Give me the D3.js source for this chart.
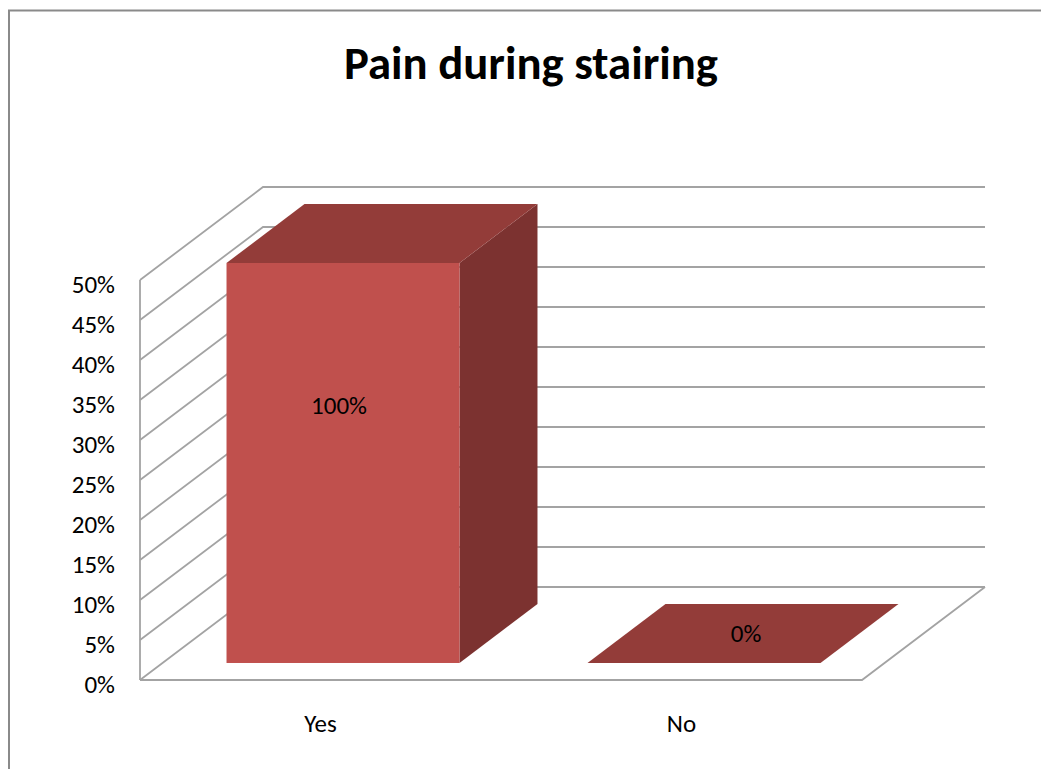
<!DOCTYPE html>
<html>
<head>
<meta charset="utf-8">
<script src="https://cdn.jsdelivr.net/npm/d3@7"></script>
<style>
  html, body { margin: 0; padding: 0; background: #fff; }
  svg { display: block; }
</style>
</head>
<body>
<svg id="chart" width="1041" height="769"></svg>
<script>
const titleText = "Pain during stairing";
const categories = ["Yes", "No"];
const values = [1.0, 0.0];
const valueLabels = ["100%", "0%"];
const tickValues = [0, 0.05, 0.10, 0.15, 0.20, 0.25, 0.30, 0.35, 0.40, 0.45, 0.50];
const tickLabels = ["0%", "5%", "10%", "15%", "20%", "25%", "30%", "35%", "40%", "45%", "50%"];

const W = 1041, H = 769;
const svg = d3.select("#chart");
const FONT = "Calibri, Carlito, Lato, 'Open Sans', sans-serif";
const LABEL_SIZE = 25;

// plot geometry (front plane)
const plot = { left: 140, right: 862, bottom: 680, top: 280 };
const depthDX = 123, depthDY = -93;     // 3D depth offset of back wall
const barDepth = [0.183, 0.817];         // bar occupies this fraction of depth
const gridColor = "#a3a3a3";

const y = d3.scaleLinear().domain([0, 0.5]).range([plot.bottom, plot.top]).clamp(true);
const x = d3.scaleBand().domain(categories).range([plot.left, plot.right])
  .paddingInner(0.3546).paddingOuter(0.1773);
const zx = d3.scaleLinear().domain([0, 1]).range([0, depthDX]);
const zy = d3.scaleLinear().domain([0, 1]).range([0, depthDY]);
const P = (px, py, z) => [px + zx(z), py + zy(z)];

// outer border
svg.append("rect").attr("x", 9).attr("y", 10.5).attr("width", 1100).attr("height", 1000)
  .attr("fill", "none").attr("stroke", "#8a8a8a").attr("stroke-width", 2);

// title
const title = svg.append("text").attr("x", 531).attr("y", 79)
  .attr("text-anchor", "middle").attr("font-family", FONT).attr("font-weight", "bold")
  .attr("font-size", 40).attr("fill", "#000").text(titleText);
const tw = title.node().getComputedTextLength();
title.attr("font-size", 40 * 374 / tw);

// walls & gridlines
const grid = svg.append("g").attr("fill", "none").attr("stroke", gridColor).attr("stroke-width", 1.8);
tickValues.forEach(t => {
  const a = P(plot.left, y(t), 0), b = P(plot.left, y(t), 1), c = P(plot.right, y(t), 1);
  grid.append("path").attr("d", d3.line()([a, b, c]));
});
// left wall front edge (value axis line)
grid.append("line").attr("x1", plot.left).attr("y1", y(0.5)).attr("x2", plot.left).attr("y2", y(0));
// floor front & right edges
grid.append("path").attr("d", d3.line()([P(plot.left, y(0), 0), P(plot.right, y(0), 0), P(plot.right, y(0), 1)]));

// bars
const bars = svg.append("g");
categories.forEach((cat, i) => {
  const v = values[i];
  const x0 = x(cat), x1 = x(cat) + x.bandwidth();
  const yb = y(0), yt = y(v);
  const [f0, f1] = barDepth;
  const g = bars.append("g");
  if (yb - yt > 0) {
    // side
    g.append("path").attr("fill", "#7c3230")
      .attr("d", d3.line()([P(x1, yt, f0), P(x1, yt, f1), P(x1, yb, f1), P(x1, yb, f0)]) + "Z");
    // front
    const a = P(x0, yt, f0), b = P(x1, yb, f0);
    g.append("rect").attr("x", a[0]).attr("y", a[1]).attr("width", b[0] - a[0]).attr("height", b[1] - a[1])
      .attr("fill", "#c0504d");
  }
  // top
  g.append("path").attr("fill", "#933c39")
    .attr("d", d3.line()([P(x0, yt, f0), P(x1, yt, f0), P(x1, yt, f1), P(x0, yt, f1)]) + "Z");

  // data label
  let lx, ly;
  if (yb - yt > 0) {
    const a = P(x0, yt, f0), b = P(x1, yb, f0);
    lx = (a[0] + b[0]) / 2 - 4;
    ly = a[1] + (b[1] - a[1]) * 0.355;
  } else {
    const c1 = P(x0, yt, f0), c2 = P(x1, yt, f1);
    lx = (c1[0] + c2[0]) / 2 + 3;
    ly = (c1[1] + c2[1]) / 2;
  }
  g.append("text").attr("x", lx).attr("y", ly).attr("dy", "0.35em")
    .attr("text-anchor", "middle").attr("font-family", FONT).attr("font-size", LABEL_SIZE)
    .attr("fill", "#000").text(valueLabels[i]);
});

// value axis
const yAxis = svg.append("g").attr("transform", `translate(${plot.left},0)`)
  .call(d3.axisLeft(y).tickValues(tickValues).tickFormat((d, i) => tickLabels[i]).tickSize(0).tickPadding(25));
yAxis.select(".domain").remove();
yAxis.selectAll("text").attr("font-family", FONT).attr("font-size", LABEL_SIZE).attr("fill", "#000").attr("dy", "0.48em");

// category axis
const xAxis = svg.append("g").attr("transform", `translate(0,${plot.bottom})`)
  .call(d3.axisBottom(x).tickSize(0).tickPadding(34));
xAxis.select(".domain").remove();
xAxis.selectAll("text").attr("font-family", FONT).attr("font-size", LABEL_SIZE).attr("fill", "#000");
</script>
</body>
</html>
